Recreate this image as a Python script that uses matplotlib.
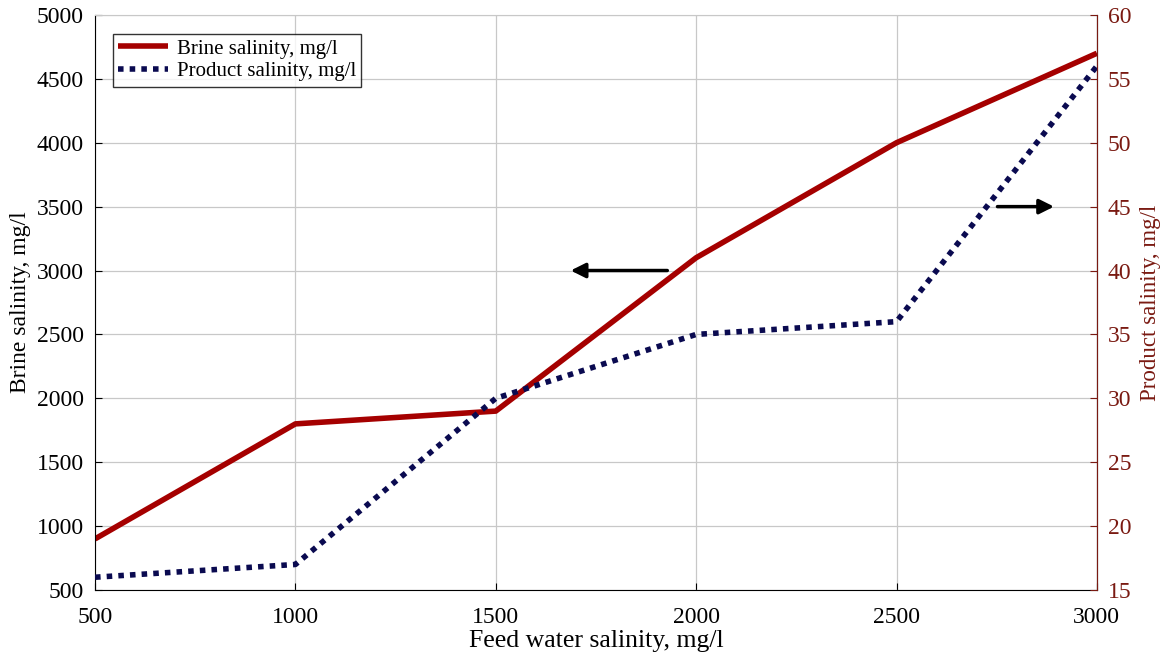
import matplotlib.pyplot as plt

plt.rcParams['font.family'] = ['Liberation Serif', 'DejaVu Serif']

feed = [500, 1000, 1500, 2000, 2500, 3000]
brine = [900, 1800, 1900, 3100, 4000, 4700]
product = [16, 17, 30, 35, 36, 56]

red = '#a50000'
navy = '#0a0a50'
axis_red = '#7a1a12'

fig = plt.figure(figsize=(11.69, 6.61), dpi=100)
ax = fig.add_axes([0.0813, 0.1074, 0.857, 0.870])
ax2 = ax.twinx()

l1, = ax.plot(feed, brine, color=red, lw=4, solid_capstyle='butt')
l2, = ax2.plot(feed, product, color=navy, lw=4, linestyle=(0, (1, 1.1)))

ax.set_xlim(500, 3000)
ax.set_ylim(500, 5000)
ax2.set_ylim(15, 60)
ax.set_xticks(range(500, 3001, 500))
ax.set_yticks(range(500, 5001, 500))
ax2.set_yticks(range(15, 61, 5))

ax.grid(True, color='#c8c8c8', lw=0.9)
ax.set_axisbelow(True)

ax.tick_params(direction='in', labelsize=17, length=5, right=False, top=False)
ax.tick_params(axis='x', pad=12)
ax.tick_params(axis='y', pad=8)
ax2.tick_params(direction='in', labelsize=17, length=5, colors=axis_red, pad=8)
ax2.spines['right'].set_color(axis_red)
ax.spines['top'].set_color('#c8c8c8')
ax2.spines['top'].set_visible(False)
ax2.spines['left'].set_visible(False)
ax2.spines['bottom'].set_visible(False)

ax.set_xlabel('Feed water salinity, mg/l', fontsize=18.5, labelpad=2)
ax.set_ylabel('Brine salinity, mg/l', fontsize=17, labelpad=4)
ax2.set_ylabel('Product salinity, mg/l', fontsize=16.5, color=axis_red, labelpad=6)

leg = ax.legend([l1, l2], ['Brine salinity, mg/l', 'Product salinity, mg/l'],
                loc='upper left', bbox_to_anchor=(0.018, 0.967), fontsize=15,
                frameon=True, fancybox=False, edgecolor='black',
                handlelength=2.4, handletextpad=0.4, borderpad=0.25,
                labelspacing=0.15, borderaxespad=0)
leg.get_frame().set_linewidth(1.0)

ax.annotate('', xy=(1680, 3000), xytext=(1935, 3000),
            arrowprops=dict(arrowstyle='-|>', color='black', lw=2.5,
                            mutation_scale=22))
ax.annotate('', xy=(2900, 3500), xytext=(2745, 3500),
            arrowprops=dict(arrowstyle='-|>', color='black', lw=2.5,
                            mutation_scale=22))

fig.savefig('out.png', dpi=100)
